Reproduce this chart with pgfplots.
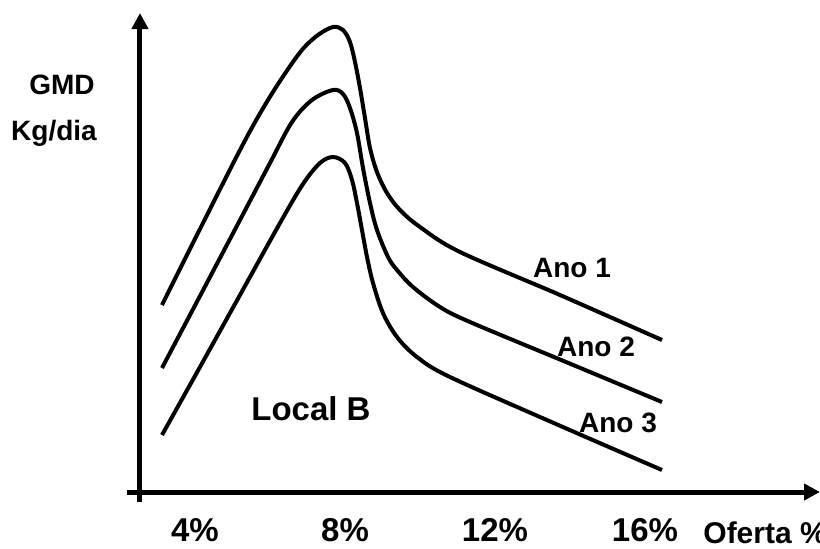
\documentclass[border=0pt]{standalone}
\usepackage{pgfplots}
\pgfplotsset{compat=1.18}
\usepackage{fontspec}
\setmainfont{Liberation Sans}
\usetikzlibrary{arrows.meta}

\begin{document}
\begin{tikzpicture}
\begin{axis}[
  scale only axis,
  x=18.75pt, y=0.5pt,
  xmin=2.187, xmax=20.667, ymin=-10, ymax=480,
  axis line style={draw=none},
  ytick=\empty,
  xtick={4,8,12,16},
  xticklabels={4\%,8\%,12\%,16\%},
  major tick length=0pt,
  xticklabel style={font=\fontsize{16.5}{18}\selectfont\bfseries, anchor=center, yshift=-14pt},
  clip=false,
  curve/.style={black, line width=2pt, smooth, tension=0.55, mark=none},
]
% Ano 1
\addplot[curve] coordinates {
  (3.12,187) (4.133,263) (5.2,342) (5.787,382) (6.32,414) (6.853,442)
  (7.28,457) (7.68,465) (7.947,462) (8.133,450) (8.267,430)
  (8.4,404) (8.533,374) (8.667,344) (8.853,320) (9.12,299) (9.467,282)
  (10.0,265) (11.067,240) (13.733,197) (16.453,152)
};
% Ano 2
\addplot[curve] coordinates {
  (3.12,124) (4.133,196) (5.2,272) (6.0,329) (6.587,370) (7.12,392)
  (7.68,402) (7.947,398) (8.133,384) (8.32,359) (8.48,324) (8.667,289)
  (8.853,262) (9.147,235) (9.387,222) (9.813,205) (10.533,185)
  (11.333,170) (13.893,130) (16.453,90)
};
% Ano 3
\addplot[curve] coordinates {
  (3.12,57) (4.133,125) (5.2,197) (6.267,269) (6.88,308) (7.333,329)
  (7.68,335) (8.0,329) (8.187,312) (8.32,289) (8.453,262) (8.587,235)
  (8.747,209) (9.013,179) (9.387,155) (9.92,135) (10.8,115)
  (13.627,68) (16.453,22)
};

% axes with arrows
\draw[line width=2.5pt, -{Triangle[length=8pt,width=8pt]}] (axis cs:2.187,0) -- (axis cs:20.667,0);
\draw[line width=2.5pt, -{Triangle[length=8pt,width=8pt]}] (axis cs:2.533,-10) -- (axis cs:2.533,479);

\begin{scope}[every node/.style={font=\fontsize{14}{16}\selectfont\bfseries}]
\node at (axis cs:0.453,407) {GMD};
\node at (axis cs:0.24,359) {Kg/dia};
\node at (axis cs:14.053,224) {Ano 1};
\node at (axis cs:14.693,145) {Ano 2};
\node at (axis cs:15.28,69) {Ano 3};
\end{scope}
\node[anchor=west, inner sep=0pt, font=\fontsize{15}{17}\selectfont\bfseries] at (axis cs:17.547,-41) {Oferta \%};
\node[font=\fontsize{16.5}{18}\selectfont\bfseries] at (axis cs:7.093,83) {Local B};

\coordinate (bl) at (axis cs:-1.2,-56);
\coordinate (tr) at (axis cs:20.667,492);
\end{axis}
\pgfresetboundingbox
\useasboundingbox (bl) rectangle (tr);
\end{tikzpicture}
\end{document}
